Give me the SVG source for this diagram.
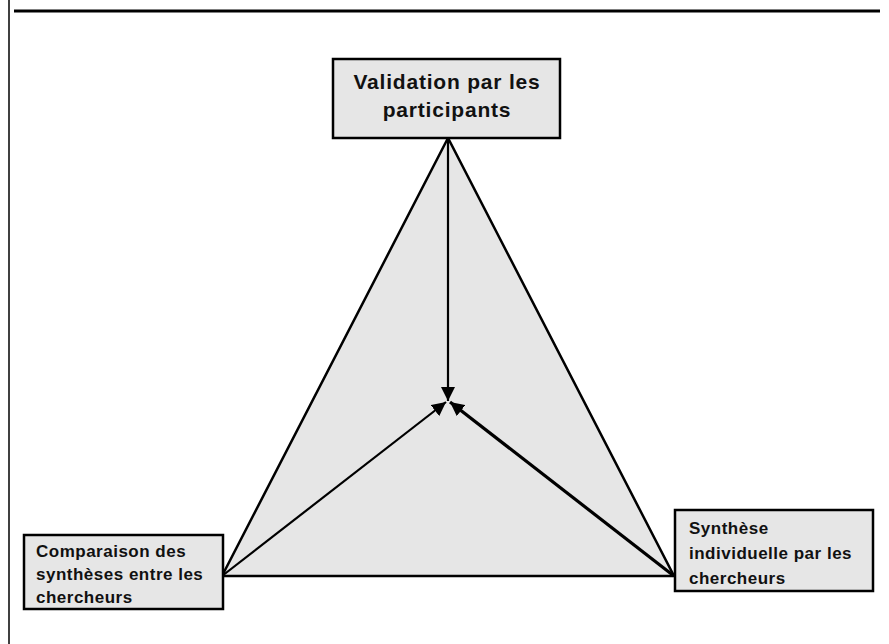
<svg xmlns="http://www.w3.org/2000/svg" width="889" height="644" viewBox="0 0 889 644">
<defs>
<style>
.box{fill:#e6e6e6;stroke:#000;stroke-width:2.5}
.t{font-family:"Liberation Sans",Arial,sans-serif;font-weight:bold;fill:#111}
.big{font-size:21px;letter-spacing:0.8px}
.sm{font-size:17px;letter-spacing:0.5px}
.ln{stroke:#000;stroke-width:2.2;fill:none}
.thick{stroke-width:3.2}
</style>
<marker id="ah" viewBox="0 0 14 14" refX="14" refY="7" markerWidth="14" markerHeight="14" markerUnits="userSpaceOnUse" orient="auto">
<path d="M0,0 L14,7 L0,14 z" fill="#000"/>
</marker>
</defs>
<rect width="889" height="644" fill="#fff"/>
<line x1="9" y1="0" x2="9" y2="644" stroke="#000" stroke-width="1.5"/>
<line x1="14" y1="11" x2="880" y2="11" stroke="#000" stroke-width="3"/>
<polygon id="triangle" points="448,138 222,576 674,576" fill="#e6e6e6" stroke="#000" stroke-width="2.5"/>
<g id="connectors">
<line class="ln" x1="448" y1="138" x2="448" y2="401" marker-end="url(#ah)"/>
<line class="ln" x1="222" y1="576" x2="446" y2="402" marker-end="url(#ah)"/>
<line class="ln thick" x1="674" y1="576" x2="450" y2="402" marker-end="url(#ah)"/>
</g>
<g id="node-validation">
<rect class="box" x="333" y="59" width="227" height="79"/>
<text class="t big" x="447" y="89" text-anchor="middle">Validation par les</text>
<text class="t big" x="447" y="117" text-anchor="middle">participants</text>
</g>
<g id="node-comparaison">
<rect class="box" x="24" y="535" width="199" height="74"/>
<text class="t sm" x="36" y="557">Comparaison des</text>
<text class="t sm" x="36" y="580">synthèses entre les</text>
<text class="t sm" x="36" y="603">chercheurs</text>
</g>
<g id="node-synthese">
<rect class="box" x="675" y="510" width="198" height="81"/>
<text class="t sm" x="689" y="534">Synthèse</text>
<text class="t sm" x="689" y="559">individuelle par les</text>
<text class="t sm" x="689" y="584">chercheurs</text>
</g>
</svg>
